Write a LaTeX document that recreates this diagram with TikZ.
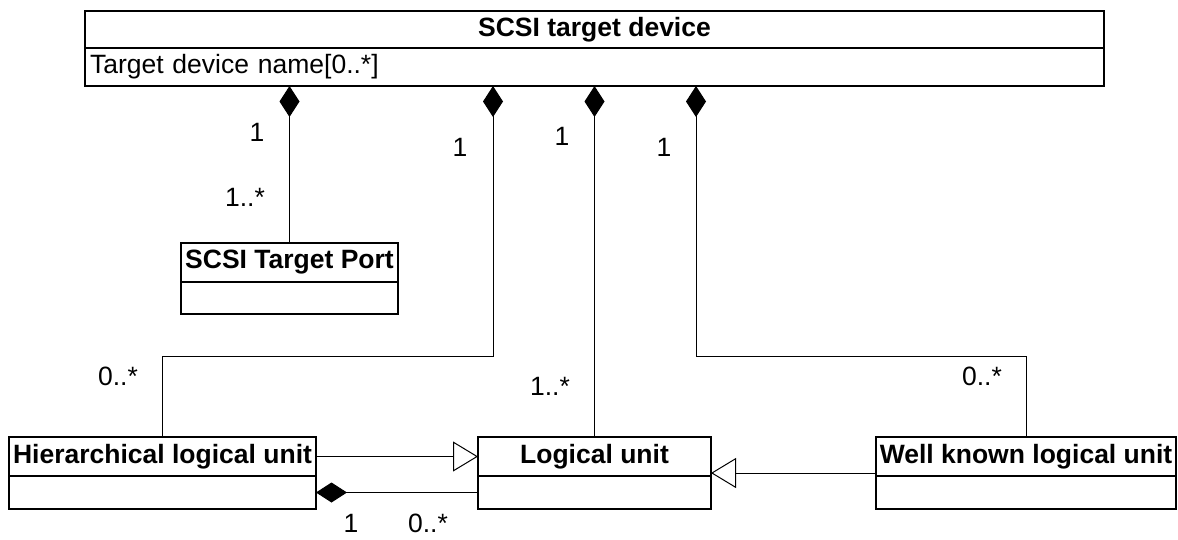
\documentclass[tikz,border=0pt]{standalone}
\usepackage{fontspec}
\setmainfont{Liberation Sans}
\usetikzlibrary{arrows.meta, positioning}
\newcommand{\umlfont}{\fontsize{26.5}{30}\selectfont}
\tikzset{
    >={Latex},
    classname/.style={draw, line width=2pt, inner sep=0pt, outer sep=0pt,
        minimum height=39pt, font=\bfseries\umlfont, anchor=north west},
    classattr/.style={draw, line width=2pt, inner sep=0pt, outer sep=0pt,
        minimum height=33pt, font=\umlfont},
    mult/.style={inner sep=0pt, font=\umlfont},
    comp/.style={line width=1pt, -{Diamond[length=31pt, width=20pt]}},
    gen/.style={line width=1pt, -{Triangle[open, length=25pt, width=30pt, fill=white]}}
}

\begin{document}
\begin{tikzpicture}[x=1pt, y=-1pt]
    \useasboundingbox (0, 0) rectangle (1178, 539);
    % classes
    \node[classname, minimum width=1019pt, minimum height=37pt] (dev) at (85, 11) {SCSI target device};
    \node[classattr, minimum width=1019pt, minimum height=38pt, text width=1009pt,
          inner xsep=5pt, align=left, below=0pt of dev] (devattr) {Target device name[0..*]};
    \node[classname, minimum width=217pt] (port) at (181, 243) {SCSI Target Port};
    \node[classattr, minimum width=217pt, minimum height=32pt, below=0pt of port] (portattr) {};
    \node[classname, minimum width=307pt] (hier) at (9, 437) {Hierarchical logical unit};
    \node[classattr, minimum width=307pt, below=0pt of hier] (hierattr) {};
    \node[classname, minimum width=233pt] (lu) at (478, 437) {Logical unit};
    \node[classattr, minimum width=233pt, below=0pt of lu] (luattr) {};
    \node[classname, minimum width=300pt] (wk) at (876, 437) {Well known logical unit};
    \node[classattr, minimum width=300pt, below=0pt of wk] (wkattr) {};
    % compositions
    \coordinate (hbend) at (493, 356);
    \coordinate (wbend) at (696, 356);
    \draw[comp] (port.north) -- (port.north |- devattr.south);
    \draw[comp] (hier.north) |- (hbend) -- (hbend |- devattr.south);
    \draw[comp] (lu.north) -- (lu.north |- devattr.south);
    \draw[comp] (wk.north) |- (wbend) -- (wbend |- devattr.south);
    \draw[comp] (luattr.west) -- (hierattr.east);
    % generalizations
    \draw[gen] (hier.east) -- (lu.west);
    \draw[gen] ([yshift=3pt]wk.south west) -- ([yshift=3pt]lu.south east);
    % multiplicities
    \node[mult] (mport1) at (257, 132) {1};
    \node[mult] (mport2) at (245, 197) {1..*};
    \node[mult] (mhier1) at (460, 147) {1};
    \node[mult] (mlu1) at (562, 136) {1};
    \node[mult] (mwk1) at (664, 147) {1};
    \node[mult] (mhier2) at (118, 376) {0..*};
    \node[mult] (mlu2) at (550, 386) {1..*};
    \node[mult] (mwk2) at (982, 376) {0..*};
    \node[mult] (msub1) at (351, 523) {1};
    \node[mult] (msub2) at (428, 523) {0..*};
\end{tikzpicture}
\end{document}
